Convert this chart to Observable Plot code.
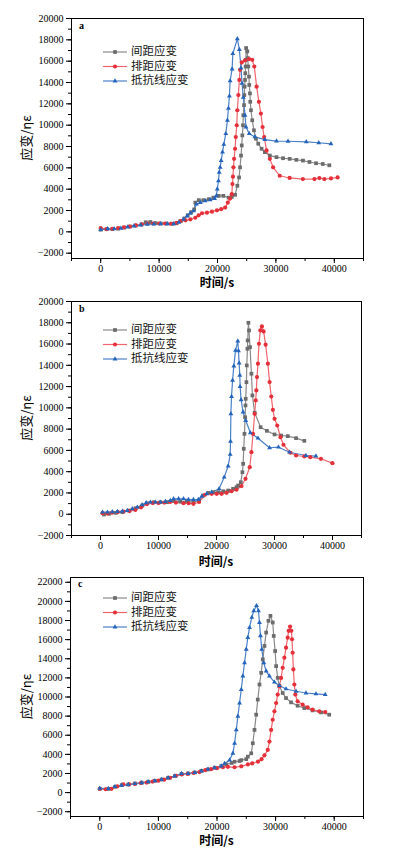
<!DOCTYPE html>
<html><head><meta charset="utf-8">
<script src="https://cdn.jsdelivr.net/npm/d3@7"></script>
<script src="https://cdn.jsdelivr.net/npm/@observablehq/plot@0.6"></script>
<style>
body{margin:0;background:#fff}
#root{width:397px;line-height:0}
#root svg{display:block}
</style>
</head><body><div id="root"></div>
<script>
// ---- labels ----
const seriesNames = ["间距应变", "排距应变", "抵抗线应变"];
const panelLetters = ["a", "b", "c"];
const xTitle = "时间/s";
const yTitle = "应变/ηε";
const xTicks = [0, 10000, 20000, 30000, 40000];

// ---- panel a ----
const aGapT = [0,1000,2000,3000,4000,5000,6000,7000,7700,8500,9400,10300,11300,12300,13000,13700,14300,14900,15500,16000,16200,16800,17600,18500,19300,20200,21000,21900,22450,23010,23400,23690,23860,24030,24150,24250,24370,24420,24540,24590,24650,24710,24760,24820,24860,24900,25100,25170,25270,25390,25440,25560,25610,25730,25950,26240,26580,26980,27550,28110,28960,30100,31220,32360,33500,34630,35750,36880,38020,39150];
const aGapV = [200,250,250,300,400,500,600,700,900,920,820,780,770,760,800,1000,1250,1550,1850,2100,2740,2970,2970,3060,3210,3370,3370,3210,3280,3470,4320,5100,6050,7150,8100,9040,9990,10930,11880,12820,13610,14240,14870,15500,16130,17230,16920,16290,15500,14550,13770,12980,12190,11400,10460,9520,8730,8260,7790,7470,7150,7000,6900,6840,6750,6680,6550,6430,6360,6240];
const aRowT = [0,1000,2000,3000,4000,5000,6000,7000,8000,9000,10000,11000,12000,13000,13660,14510,15360,16200,16770,17350,18200,19050,19900,20630,21310,21770,22160,22450,22560,22650,22730,22840,23010,23130,23300,23400,23570,23740,23860,24150,24710,25390,25950,26300,26700,27090,27430,27720,27990,28400,28960,29520,30660,32350,34620,36600,37450,38300,39430,40570];
const aRowV = [350,250,280,350,420,500,600,700,780,780,780,780,760,850,1010,1080,1170,1320,1550,1740,1800,1890,2020,2120,2270,2740,3120,3530,4480,5170,6050,6840,7790,8880,9990,11400,12820,14240,15190,15880,16070,16200,16130,15500,13610,12190,11090,9830,8880,7630,6840,6050,5260,5050,4950,4950,5040,4950,5010,5100];
const aBurT = [0,1200,2300,3450,4600,5700,6850,8000,9100,10250,11400,12500,13400,14200,14800,15350,15900,16400,17050,17900,18750,19500,19800,19960,20170,20290,20460,20630,20860,21080,21420,21700,21870,22040,22160,22500,22620,23400,23740,24030,24200,24420,24710,24880,25440,26410,28110,30100,32080,35200,37340,39430];
const aBurV = [200,280,280,320,440,540,630,700,730,760,760,760,890,1170,1480,1740,1960,2590,2740,2900,3000,3120,3370,4000,4790,5580,6050,6680,7470,8190,9200,10460,11570,12730,14150,15250,16700,18090,17080,15350,13930,12600,10930,9830,9200,8900,8640,8510,8490,8430,8350,8250];

// ---- panel b ----
const bGapT = [600,1470,2620,3770,4900,6040,7190,8040,9180,10320,11470,12600,13750,14890,16020,16990,17730,18590,19450,20300,21160,22010,22870,23450,23730,24190,24470,24590,24700,24820,24930,25000,25040,25160,25220,25330,25380,25500,25610,25780,26020,26190,26580,27610,28690,30010,31150,32290,33720,35140];
const bGapV = [-30,40,130,190,350,560,820,1030,1130,1130,1130,1260,1190,1220,1130,1290,1760,2010,2070,2070,2160,2230,2390,2540,2700,3010,3950,4740,6150,7560,9120,10230,10850,12420,13990,15560,16340,18000,17280,15710,13210,11170,9540,8180,7840,7500,7400,7340,7150,6900];
const bRowT = [340,1200,2000,3000,4000,5000,6000,7000,8000,9000,10000,11000,12000,13000,14310,15200,16020,17000,18030,19170,20030,20880,21740,22590,23450,24310,25000,25730,26020,26300,26580,26760,26870,26980,27150,27320,27560,27830,28120,28470,28860,29150,29440,29720,30010,30470,31030,31550,32740,33720,35140,36170,38000,39990];
const bRowV = [100,80,150,200,250,300,400,650,950,1050,1050,1100,1150,1100,1030,1030,980,1150,1830,1920,1920,1920,2010,2160,2300,2650,3330,4420,5830,7560,9440,10700,11640,12890,14150,16030,17280,17660,17190,15940,14150,12420,11070,9820,8970,8340,7240,6530,5780,5520,5430,5360,5210,4800];
const bBurT = [340,1200,2050,2910,3770,4620,5480,6330,7190,7870,8610,9470,10320,11180,12030,12600,13460,14310,15170,16020,16880,17460,18320,19170,20450,21330,22010,22360,22420,22480,22590,22770,22990,23280,23670,23790,23900,24020,24070,24240,24580,25040,25840,27150,29150,30690,32580,35430,37140];
const bBurV = [190,190,220,250,280,350,510,660,880,1070,1130,1130,1130,1190,1290,1450,1450,1450,1380,1380,1380,1690,1920,2070,2390,3480,4520,5620,6840,9440,11070,12580,13920,15400,16270,15370,14210,13050,12010,10760,9600,8810,7660,7150,6250,6300,5830,5520,5460];

// ---- panel c ----
const cGapT = [0,1460,2600,3740,4860,6000,7140,8260,9400,10540,11660,12800,13940,15060,16200,17340,18460,19600,20740,21590,22500,23000,23850,24140,24990,25260,25840,26110,26400,26690,26960,27250,27540,27810,28100,28390,28780,29120,29510,29680,29920,30090,30360,30650,31210,31780,32640,33760,34900,36310,37740,39150];
const cGapV = [400,380,600,780,840,950,1050,1130,1230,1370,1550,1730,1940,2000,2110,2280,2420,2600,2780,2950,3100,3230,3300,3400,3500,3760,4110,5160,6560,8150,9730,11310,12530,13940,15340,16740,17970,18490,17790,16390,14810,13230,12000,11130,10420,9890,9440,9090,8840,8600,8390,8150];
const cRowT = [0,1000,2000,3000,4000,5000,6000,7000,8000,9000,10000,11000,12000,13000,14000,15000,16000,17000,18000,19000,20000,21000,21860,23000,24140,25260,26000,27000,27600,28100,28660,28950,29240,29510,29800,30090,30360,30650,30940,31210,31500,31780,32060,32230,32470,32690,32800,32910,33030,33200,33370,33760,34610,35460,36310,37450,38470];
const cRowV = [400,350,400,650,850,850,900,1000,1050,1150,1250,1350,1550,1750,1900,1950,2050,2150,2350,2450,2550,2650,2700,2650,2750,2950,3050,3250,3500,3900,4460,5340,6560,7620,8500,9370,10250,11130,12000,13050,14110,15160,16210,16920,17370,16920,16040,14630,12880,11310,10250,9550,9200,8920,8670,8500,8420];
const cBurT = [0,1460,2600,3740,4860,6000,7140,8260,9400,10540,11660,12800,13940,15060,16200,17340,18460,19600,20740,21300,22150,22710,23000,23290,23560,23850,24140,24410,24700,24990,25260,25550,25940,26280,26740,27080,27250,27420,27640,27980,28390,28950,29800,30650,31780,33490,35190,36890,38470];
const cBurV = [450,420,620,770,840,930,1030,1130,1230,1370,1550,1730,2000,2000,2080,2250,2450,2600,2780,3050,3400,4110,5160,6560,7970,9370,10780,12180,13580,14990,16210,17260,18320,19020,19550,19020,17790,16390,14990,13580,12710,12180,11550,11200,10840,10600,10420,10320,10250];

// ---- styles ----
const STY = [
  {line: "#8a8a8a", fill: "#6c6c6c", sym: "square", r: 2.1},
  {line: "#f0656c", fill: "#e5303a", sym: "circle", r: 2.1},
  {line: "#4a80c8", fill: "#2464bc", sym: "triangle", r: 1.8}
];
const SERIF = "'Liberation Serif','DejaVu Serif',serif";
const CJK = "'Noto Sans CJK SC','Noto Sans',sans-serif";

const panels = [
  {series: [[aGapT,aGapV],[aRowT,aRowV],[aBurT,aBurV]], h: 290, mt: 18, mb: 32, ml: 71, mr: 34,
   yd: [-2500, 20000], yMajor: d3.range(-2000, 20001, 2000), yMinor: d3.range(-2000, 20001, 1000),
   leg: [34, 48.5, 63], xt: 284, letterY: 9},
  {series: [[bGapT,bGapV],[bRowT,bRowV],[bBurT,bBurV]], h: 280, mt: 11, mb: 35, ml: 71, mr: 36,
   yd: [-2000, 20000], yMajor: d3.range(-2000, 20001, 2000), yMinor: d3.range(-2000, 20001, 1000),
   leg: [29, 43.5, 58], xt: 273, letterY: 9},
  {series: [[cGapT,cGapV],[cRowT,cRowV],[cBurT,cBurV]], h: 284, mt: 7, mb: 38, ml: 70, mr: 34,
   yd: [-2500, 22500], yMajor: d3.range(-2000, 22001, 2000), yMinor: d3.range(-2000, 22001, 1000),
   leg: [21, 35.5, 50], xt: 272, letterY: 8}
];

const fmt = d3.format("d");
const root = document.getElementById("root");

panels.forEach((p, pi) => {
  const marks = [];
  p.series.forEach(([T, V], i) => {
    const d = T.map((t, j) => ({t, v: V[j]}));
    marks.push(Plot.line(d, {x: "t", y: "v", stroke: STY[i].line, strokeWidth: 1.2}));
  });
  p.series.forEach(([T, V], i) => {
    const d = T.map((t, j) => ({t, v: V[j]}));
    marks.push(Plot.dot(d, {x: "t", y: "v", symbol: STY[i].sym, fill: STY[i].fill, r: STY[i].r, stroke: "none"}));
  });
  marks.push(Plot.axisY({ticks: p.yMinor, tickSize: 3, tickFormat: () => "", label: null}));
  marks.push(Plot.axisY({ticks: p.yMajor, tickSize: 5, tickPadding: 3, tickFormat: fmt, label: null}));
  marks.push(Plot.axisX({ticks: d3.range(-5000, 45001, 5000), tickSize: 3, tickFormat: () => "", label: null}));
  marks.push(Plot.axisX({ticks: xTicks, tickSize: 5, tickPadding: 1, tickFormat: fmt, label: null}));
  marks.push(Plot.frame({stroke: "#000", strokeWidth: 1}));

  const svg = Plot.plot({
    width: 397, height: p.h,
    marginLeft: p.ml, marginRight: p.mr, marginTop: p.mt, marginBottom: p.mb,
    x: {domain: [-5000, 45000]},
    y: {domain: p.yd},
    style: {fontFamily: SERIF, fontSize: "10px", color: "#000", background: "#fff", overflow: "visible"},
    marks
  });
  root.appendChild(svg);

  const s = d3.select(svg);
  const fTop = p.mt, fBot = p.h - p.mb, fL = p.ml, fR = 397 - p.mr;
  // panel letter
  s.append("text").attr("x", fL + 8).attr("y", fTop + p.letterY).attr("dominant-baseline", "middle")
    .attr("text-anchor", "start")
    .attr("font-family", SERIF).attr("font-size", 10).attr("font-weight", "bold").text(panelLetters[pi]);
  // legend
  seriesNames.forEach((name, i) => {
    const y = fTop + p.leg[i];
    s.append("line").attr("x1", 103).attr("x2", 127).attr("y1", y).attr("y2", y)
      .attr("stroke", STY[i].line).attr("stroke-width", 1.2);
    s.append("path").attr("transform", `translate(115,${y})`)
      .attr("d", d3.symbol(STY[i].sym === "square" ? d3.symbolSquare : STY[i].sym === "circle" ? d3.symbolCircle : d3.symbolTriangle, Math.PI * STY[i].r * STY[i].r)())
      .attr("fill", STY[i].fill);
    s.append("text").attr("x", 131).attr("y", y).attr("dominant-baseline", "middle")
      .attr("text-anchor", "start")
      .attr("font-family", CJK).attr("font-size", 11.5).attr("fill", "#111").text(name);
  });
  // axis titles
  s.append("text").attr("x", (fL + fR) / 2).attr("y", p.xt).attr("text-anchor", "middle").attr("dominant-baseline", "middle")
    .attr("font-family", CJK).attr("font-size", 12).attr("font-weight", "bold").text(xTitle);
  s.append("text").attr("transform", `translate(27,${(fTop + fBot) / 2}) rotate(-90)`)
    .attr("text-anchor", "middle").attr("dominant-baseline", "middle")
    .attr("font-family", CJK).attr("font-size", 13).text(yTitle);
});
</script>
</body></html>
